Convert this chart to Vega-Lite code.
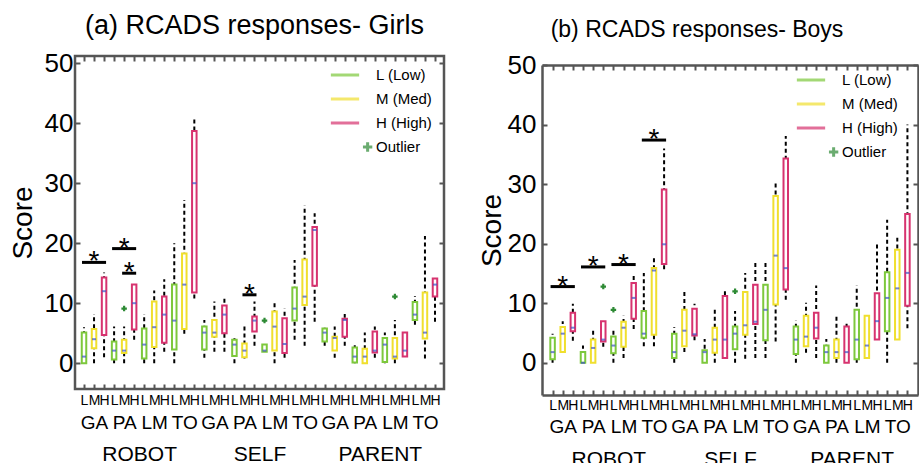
{
  "$schema": "https://vega.github.io/schema/vega-lite/v6.json",
  "padding": {"left": 7, "top": 10, "right": 0, "bottom": 0},
  "config": {
    "font": "Liberation Sans",
    "view": {"stroke": "#555555", "strokeWidth": 2.5},
    "axis": {"labelColor": "black", "tickColor": "#555555", "tickWidth": 2, "grid": false, "domain": false, "domainColor": "#555555", "domainWidth": 2.5, "labelFont": "Liberation Sans", "titleFont": "Liberation Sans"},
    "legend": {"labelFont": "Liberation Sans", "labelColor": "black"}
  },
  "datasets": {
    "boxA": [
      {"i":1,"lvl":"L","lo":0,"q1":0,"med":1.1,"q3":5.1,"hi":6},
      {"i":2,"lvl":"M","lo":0,"q1":2.5,"med":4.0,"q3":5.7,"hi":8.2},
      {"i":3,"lvl":"H","lo":1.0,"q1":4.7,"med":12.0,"q3":14.3,"hi":15.1},
      {"i":4,"lvl":"L","lo":0,"q1":0.6,"med":2.1,"q3":3.6,"hi":6.1},
      {"i":5,"lvl":"M","lo":0,"q1":1.7,"med":2.1,"q3":3.9,"hi":6.1},
      {"i":6,"lvl":"H","lo":3.9,"q1":5.6,"med":10.0,"q3":13.1,"hi":13.1},
      {"i":7,"lvl":"L","lo":0,"q1":0.8,"med":3.1,"q3":5.8,"hi":8.2},
      {"i":8,"lvl":"M","lo":0,"q1":2.7,"med":6.0,"q3":10.3,"hi":12.1},
      {"i":9,"lvl":"H","lo":1.9,"q1":3.4,"med":8.1,"q3":11.1,"hi":14.0},
      {"i":10,"lvl":"L","lo":0,"q1":2.3,"med":7.1,"q3":13.1,"hi":20.0},
      {"i":11,"lvl":"M","lo":4.9,"q1":5.7,"med":13.1,"q3":18.3,"hi":27.2},
      {"i":12,"lvl":"H","lo":10.8,"q1":11.8,"med":30.0,"q3":38.7,"hi":41.0},
      {"i":13,"lvl":"L","lo":0.9,"q1":2.3,"med":5.1,"q3":6.1,"hi":7.2},
      {"i":14,"lvl":"M","lo":1.9,"q1":4.4,"med":5.1,"q3":7.2,"hi":10.3},
      {"i":15,"lvl":"H","lo":1.9,"q1":5.0,"med":8.1,"q3":9.6,"hi":11.2},
      {"i":16,"lvl":"L","lo":0,"q1":1.2,"med":3.1,"q3":3.9,"hi":4.6},
      {"i":17,"lvl":"M","lo":0.8,"q1":1.0,"med":2.1,"q3":3.3,"hi":6.1},
      {"i":18,"lvl":"H","lo":2.9,"q1":5.3,"med":7.1,"q3":7.8,"hi":10.3},
      {"i":19,"lvl":"L","lo":1.9,"q1":1.9,"med":2.1,"q3":3.1,"hi":3.1},
      {"i":20,"lvl":"M","lo":0,"q1":2.1,"med":6.1,"q3":8.6,"hi":10.3},
      {"i":21,"lvl":"H","lo":0.9,"q1":1.7,"med":3.2,"q3":7.5,"hi":9.1},
      {"i":22,"lvl":"L","lo":3.9,"q1":7.1,"med":9.1,"q3":12.6,"hi":17.2},
      {"i":23,"lvl":"M","lo":2.9,"q1":9.7,"med":11.1,"q3":17.3,"hi":26.3},
      {"i":24,"lvl":"H","lo":6.9,"q1":12.9,"med":22.2,"q3":22.7,"hi":25.0},
      {"i":25,"lvl":"L","lo":2.9,"q1":3.6,"med":5.1,"q3":5.8,"hi":6.1},
      {"i":26,"lvl":"M","lo":0.9,"q1":2.1,"med":4.2,"q3":4.4,"hi":6.1},
      {"i":27,"lvl":"H","lo":2.9,"q1":4.4,"med":7.2,"q3":7.4,"hi":8.2},
      {"i":28,"lvl":"L","lo":0,"q1":0.1,"med":1.1,"q3":2.6,"hi":3.3},
      {"i":29,"lvl":"M","lo":0,"q1":0,"med":1.1,"q3":2.4,"hi":5.1},
      {"i":30,"lvl":"H","lo":0.9,"q1":1.8,"med":2.1,"q3":5.3,"hi":6.1},
      {"i":31,"lvl":"L","lo":0,"q1":0.2,"med":3.1,"q3":4.2,"hi":5.1},
      {"i":32,"lvl":"M","lo":0,"q1":0.8,"med":1.1,"q3":4.2,"hi":7.2},
      {"i":33,"lvl":"H","lo":1.1,"q1":1.1,"med":2.1,"q3":5.1,"hi":5.1},
      {"i":34,"lvl":"L","lo":6.4,"q1":7.2,"med":8.1,"q3":10.2,"hi":11.2},
      {"i":35,"lvl":"M","lo":0.8,"q1":4.1,"med":5.1,"q3":11.8,"hi":21.2},
      {"i":36,"lvl":"H","lo":6.9,"q1":11.1,"med":13.1,"q3":14.1,"hi":14.1}
    ],
    "boxB": [
      {"i":1,"lvl":"L","lo":0,"q1":0.6,"med":1.8,"q3":4.2,"hi":4.9},
      {"i":2,"lvl":"M","lo":1.8,"q1":1.8,"med":4.9,"q3":6.0,"hi":7.0},
      {"i":3,"lvl":"H","lo":3.7,"q1":5.3,"med":5.9,"q3":8.4,"hi":9.9},
      {"i":4,"lvl":"L","lo":0,"q1":0,"med":0,"q3":1.8,"hi":2.9},
      {"i":5,"lvl":"M","lo":0,"q1":0,"med":2.5,"q3":3.9,"hi":5.9},
      {"i":6,"lvl":"H","lo":2.7,"q1":3.6,"med":3.9,"q3":7.0,"hi":7.0},
      {"i":7,"lvl":"L","lo":0,"q1":1.6,"med":2.9,"q3":4.4,"hi":5.9},
      {"i":8,"lvl":"M","lo":0.8,"q1":2.7,"med":5.9,"q3":6.9,"hi":7.9},
      {"i":9,"lvl":"H","lo":5.7,"q1":7.4,"med":10.9,"q3":13.4,"hi":15.1},
      {"i":10,"lvl":"L","lo":2.8,"q1":4.2,"med":4.9,"q3":8.7,"hi":15.1},
      {"i":11,"lvl":"M","lo":2.8,"q1":4.7,"med":15.5,"q3":15.9,"hi":18.0},
      {"i":12,"lvl":"H","lo":15.7,"q1":16.6,"med":19.9,"q3":29.1,"hi":36.0},
      {"i":13,"lvl":"L","lo":0,"q1":0.8,"med":1.8,"q3":4.9,"hi":6.0},
      {"i":14,"lvl":"M","lo":1.8,"q1":2.8,"med":5.4,"q3":8.9,"hi":12.0},
      {"i":15,"lvl":"H","lo":3.8,"q1":4.6,"med":4.8,"q3":9.1,"hi":9.9},
      {"i":16,"lvl":"L","lo":0,"q1":0,"med":1.8,"q3":2.1,"hi":4.0},
      {"i":17,"lvl":"M","lo":0,"q1":1.7,"med":3.9,"q3":5.9,"hi":8.9},
      {"i":18,"lvl":"H","lo":0.8,"q1":0.8,"med":3.9,"q3":11.2,"hi":12.0},
      {"i":19,"lvl":"L","lo":0,"q1":2.3,"med":4.9,"q3":6.1,"hi":8.7},
      {"i":20,"lvl":"M","lo":0.7,"q1":4.7,"med":6.3,"q3":11.9,"hi":15.1},
      {"i":21,"lvl":"H","lo":0.8,"q1":6.5,"med":6.9,"q3":13.1,"hi":17.0},
      {"i":22,"lvl":"L","lo":0.8,"q1":3.8,"med":8.9,"q3":13.1,"hi":17.0},
      {"i":23,"lvl":"M","lo":3.6,"q1":9.8,"med":18.0,"q3":28.0,"hi":30.1},
      {"i":24,"lvl":"H","lo":10.6,"q1":12.3,"med":15.9,"q3":34.3,"hi":38.1},
      {"i":25,"lvl":"L","lo":0,"q1":1.5,"med":3.9,"q3":6.1,"hi":7.1},
      {"i":26,"lvl":"M","lo":1.7,"q1":2.8,"med":4.4,"q3":7.9,"hi":10.1},
      {"i":27,"lvl":"H","lo":0.8,"q1":4.1,"med":5.9,"q3":8.4,"hi":13.0},
      {"i":28,"lvl":"L","lo":0,"q1":0,"med":1.8,"q3":2.9,"hi":4.0},
      {"i":29,"lvl":"M","lo":0,"q1":0.8,"med":1.8,"q3":3.9,"hi":7.9},
      {"i":30,"lvl":"H","lo":0,"q1":0,"med":1.8,"q3":6.1,"hi":7.0},
      {"i":31,"lvl":"L","lo":0,"q1":0.6,"med":3.9,"q3":8.9,"hi":13.0},
      {"i":32,"lvl":"M","lo":0.8,"q1":0.8,"med":2.9,"q3":7.9,"hi":7.9},
      {"i":33,"lvl":"H","lo":3.9,"q1":3.9,"med":7.0,"q3":11.7,"hi":20.0},
      {"i":34,"lvl":"L","lo":0,"q1":5.3,"med":10.9,"q3":15.2,"hi":24.0},
      {"i":35,"lvl":"M","lo":3.9,"q1":3.9,"med":12.5,"q3":19.0,"hi":21.0},
      {"i":36,"lvl":"H","lo":5.8,"q1":9.6,"med":15.1,"q3":25.0,"hi":40.0}
    ],
    "outA": [{"i":5,"v":9.1},{"i":19,"v":7.1},{"i":32,"v":11.1}],
    "outB": [{"i":6,"v":12.8},{"i":7,"v":8.9},{"i":19,"v":12.0}],
    "sigA": [
      {"x1":1,"x2":3,"xc":2,"y":16.8},
      {"x1":4,"x2":6,"xc":5,"y":19.1},
      {"x1":5,"x2":6,"xc":5.5,"y":15.0},
      {"x1":17,"x2":18,"xc":17.5,"y":11.4}
    ],
    "sigB": [
      {"x1":1,"x2":3,"xc":2,"y":12.8},
      {"x1":4,"x2":6,"xc":5,"y":16.1},
      {"x1":7,"x2":9,"xc":8,"y":16.5},
      {"x1":10,"x2":12,"xc":11,"y":37.4}
    ],
    "lg": [{"lg":"L (Low)"},{"lg":"M (Med)"},{"lg":"H (High)"},{"lg":"Outlier"}]
  },
  "spacing": 31,
  "resolve": {
    "scale": {"x": "independent", "y": "independent", "color": "independent", "shape": "independent", "stroke": "independent"},
    "legend": {"color": "independent", "shape": "independent"}
  },
  "hconcat": [
    {
      "width": 369,
      "height": 333,
      "title": {"text": "(a) RCADS responses- Girls", "fontSize": 27, "fontWeight": "normal", "color": "black", "dx": -5, "offset": 10},
      "resolve": {"axis": {"x": "independent", "y": "independent"}},
      "layer": [
        {
          "data": {"name": "boxA"},
          "mark": {"type": "rule", "strokeDash": [4, 3], "strokeWidth": 2, "color": "black"},
          "encoding": {
            "x": {"field": "i", "type": "quantitative", "scale": {"domain": [0.6, 36.4], "nice": false, "zero": false},
              "axis": {"orient": "bottom", "values": [1,2,3,4,5,6,7,8,9,10,11,12,13,14,15,16,17,18,19,20,21,22,23,24,25,26,27,28,29,30,31,32,33,34,35,36],
                "labelExpr": "['L','M','H'][(datum.value-1)%3]", "tickSize": -5, "labelPadding": 9, "labelFontSize": 14, "labelAngle": 0,
                "labelFlush": false, "labelOverlap": false, "title": null}},
            "y": {"field": "lo", "type": "quantitative", "scale": {"domain": [-4.3, 51.2], "nice": false, "zero": false},
              "axis": {"orient": "left", "values": [0,10,20,30,40,50], "tickSize": -5, "labelPadding": 7, "labelFontSize": 26,
                "title": "Score", "titleFontSize": 28, "titleFontWeight": "normal", "titleColor": "black", "titlePadding": 7, "labelFlush": false}},
            "y2": {"field": "hi"}
          }
        },
        {
          "data": {"name": "boxA"},
          "mark": {"type": "bar", "size": 4.5, "fill": "white", "strokeWidth": 2},
          "encoding": {
            "x": {"field": "i", "type": "quantitative", "axis": null},
            "y": {"field": "q1", "type": "quantitative", "axis": null},
            "y2": {"field": "q3"},
            "stroke": {"field": "lvl", "type": "nominal", "scale": {"domain": ["L","M","H"], "range": ["#7dc83c","#f0df2e","#d7336f"]}, "legend": null}
          }
        },
        {
          "data": {"name": "boxA"},
          "mark": {"type": "tick", "orient": "horizontal", "size": 4, "thickness": 2, "color": "#3b52c4"},
          "encoding": {
            "x": {"field": "i", "type": "quantitative", "axis": null},
            "y": {"field": "med", "type": "quantitative", "axis": null}
          }
        },
        {
          "data": {"name": "outA"},
          "mark": {"type": "point", "shape": "cross", "size": 30, "filled": true, "color": "#2d8a34", "opacity": 1},
          "encoding": {
            "x": {"field": "i", "type": "quantitative", "axis": null},
            "y": {"field": "v", "type": "quantitative", "axis": null}
          }
        },
        {
          "data": {"name": "sigA"},
          "mark": {"type": "rule", "strokeWidth": 3, "color": "black", "xOffset": -2, "x2Offset": 2},
          "encoding": {
            "x": {"field": "x1", "type": "quantitative", "axis": null},
            "x2": {"field": "x2"},
            "y": {"field": "y", "type": "quantitative", "axis": null}
          }
        },
        {
          "data": {"name": "sigA"},
          "mark": {"type": "text", "text": "*", "fontSize": 28, "baseline": "alphabetic", "dy": 8, "color": "black"},
          "encoding": {
            "x": {"field": "xc", "type": "quantitative", "axis": null},
            "y": {"field": "y", "type": "quantitative", "axis": null}
          }
        },
        {
          "data": {"name": "boxA"},
          "mark": {"type": "point", "opacity": 0},
          "encoding": {
            "x": {"field": "i", "type": "quantitative",
              "axis": {"orient": "bottom", "values": [2,5,8,11,14,17,20,23,26,29,32,35],
                "labelExpr": "['GA','PA','LM','TO'][round((datum.value-2)/3)%4]", "ticks": false, "labelPadding": 24, "labelFontSize": 19,
                "labelAngle": 0, "labelFlush": false, "labelOverlap": false, "title": null}},
            "y": {"field": "med", "type": "quantitative", "axis": null}
          }
        },
        {
          "data": {"name": "boxA"},
          "mark": {"type": "point", "opacity": 0},
          "encoding": {
            "x": {"field": "i", "type": "quantitative",
              "axis": {"orient": "bottom", "values": [6.5, 18.5, 30.5],
                "labelExpr": "datum.value < 10 ? 'ROBOT' : datum.value < 20 ? 'SELF' : 'PARENT'", "ticks": false, "labelPadding": 54, "labelFontSize": 21,
                "labelAngle": 0, "labelFlush": false, "labelOverlap": false, "title": null}},
            "y": {"field": "med", "type": "quantitative", "axis": null}
          }
        },
        {
          "data": {"name": "boxA"},
          "mark": {"type": "point", "opacity": 0},
          "encoding": {
            "x": {"field": "i", "type": "quantitative",
              "axis": {"orient": "top", "values": [1,2,3,4,5,6,7,8,9,10,11,12,13,14,15,16,17,18,19,20,21,22,23,24,25,26,27,28,29,30,31,32,33,34,35,36],
                "labels": false, "tickSize": -5, "title": null}},
            "y": {"field": "med", "type": "quantitative",
              "axis": {"orient": "right", "values": [0,10,20,30,40,50], "labels": false, "tickSize": -5, "title": null}}
          }
        },
        {
          "data": {"name": "lg"},
          "transform": [{"filter": "datum.lg == 'none'"}],
          "mark": {"type": "point", "filled": false, "strokeWidth": 3},
          "encoding": {
            "color": {"field": "lg", "type": "nominal",
              "scale": {"domain": ["L (Low)","M (Med)","H (High)","Outlier"], "range": ["#7dc83c","#f0df2e","#d7336f","#2d8a34"]},
              "legend": {"orient": "none", "legendX": 254, "legendY": 3, "title": null, "labelFontSize": 15, "symbolSize": 800,
                "symbolStrokeWidth": 3, "rowPadding": -1, "labelOffset": 15, "labelLimit": 200}},
            "shape": {"field": "lg", "type": "nominal",
              "scale": {"domain": ["L (Low)","M (Med)","H (High)","Outlier"], "range": ["stroke","stroke","stroke","M1.27,0H1.93M1.6,-0.33V0.33"]}}
          }
        }
      ]
    },
    {
      "width": 376,
      "height": 339,
      "view": {"stroke": null},
      "title": {"text": "(b) RCADS responses- Boys", "fontSize": 23, "fontWeight": "normal", "color": "black", "dx": -33, "offset": 10},
      "resolve": {"axis": {"x": "independent", "y": "independent"}},
      "layer": [
        {
          "data": {"name": "boxB"},
          "mark": {"type": "rule", "strokeDash": [4, 3], "strokeWidth": 2, "color": "black"},
          "encoding": {
            "x": {"field": "i", "type": "quantitative", "scale": {"domain": [0.45, 36.55], "nice": false, "zero": false},
              "axis": {"orient": "bottom", "values": [1,2,3,4,5,6,7,8,9,10,11,12,13,14,15,16,17,18,19,20,21,22,23,24,25,26,27,28,29,30,31,32,33,34,35,36],
                "labelExpr": "['L','M','H'][(datum.value-1)%3]", "tickSize": -5, "labelPadding": 8, "labelFontSize": 14, "labelAngle": 0,
                "domain": true, "labelFlush": false, "labelOverlap": false, "title": null}},
            "y": {"field": "lo", "type": "quantitative", "scale": {"domain": [-5.4, 50], "range": [339, 9], "nice": false, "zero": false},
              "axis": {"orient": "left", "values": [0,10,20,30,40,50], "tickSize": -5, "labelPadding": 11, "labelFontSize": 26, "domain": true,
                "title": "Score", "titleFontSize": 28, "titleFontWeight": "normal", "titleColor": "black", "titlePadding": 1, "labelFlush": false}},
            "y2": {"field": "hi"}
          }
        },
        {
          "data": {"name": "boxB"},
          "mark": {"type": "bar", "size": 4.5, "fill": "white", "strokeWidth": 2},
          "encoding": {
            "x": {"field": "i", "type": "quantitative", "axis": null},
            "y": {"field": "q1", "type": "quantitative", "axis": null},
            "y2": {"field": "q3"},
            "stroke": {"field": "lvl", "type": "nominal", "scale": {"domain": ["L","M","H"], "range": ["#7dc83c","#f0df2e","#d7336f"]}, "legend": null}
          }
        },
        {
          "data": {"name": "boxB"},
          "mark": {"type": "tick", "orient": "horizontal", "size": 4, "thickness": 2, "color": "#3b52c4"},
          "encoding": {
            "x": {"field": "i", "type": "quantitative", "axis": null},
            "y": {"field": "med", "type": "quantitative", "axis": null}
          }
        },
        {
          "data": {"name": "outB"},
          "mark": {"type": "point", "shape": "cross", "size": 30, "filled": true, "color": "#2d8a34", "opacity": 1},
          "encoding": {
            "x": {"field": "i", "type": "quantitative", "axis": null},
            "y": {"field": "v", "type": "quantitative", "axis": null}
          }
        },
        {
          "data": {"name": "sigB"},
          "mark": {"type": "rule", "strokeWidth": 3, "color": "black", "xOffset": -2, "x2Offset": 2},
          "encoding": {
            "x": {"field": "x1", "type": "quantitative", "axis": null},
            "x2": {"field": "x2"},
            "y": {"field": "y", "type": "quantitative", "axis": null}
          }
        },
        {
          "data": {"name": "sigB"},
          "mark": {"type": "text", "text": "*", "fontSize": 28, "baseline": "alphabetic", "dy": 8, "color": "black"},
          "encoding": {
            "x": {"field": "xc", "type": "quantitative", "axis": null},
            "y": {"field": "y", "type": "quantitative", "axis": null}
          }
        },
        {
          "data": {"name": "boxB"},
          "mark": {"type": "point", "opacity": 0},
          "encoding": {
            "x": {"field": "i", "type": "quantitative",
              "axis": {"orient": "bottom", "values": [2,5,8,11,14,17,20,23,26,29,32,35],
                "labelExpr": "['GA','PA','LM','TO'][round((datum.value-2)/3)%4]", "ticks": false, "labelPadding": 22, "labelFontSize": 19,
                "labelAngle": 0, "labelFlush": false, "labelOverlap": false, "title": null}},
            "y": {"field": "med", "type": "quantitative", "axis": null}
          }
        },
        {
          "data": {"name": "boxB"},
          "mark": {"type": "point", "opacity": 0},
          "encoding": {
            "x": {"field": "i", "type": "quantitative",
              "axis": {"orient": "bottom", "values": [6.5, 18.5, 30.5],
                "labelExpr": "datum.value < 10 ? 'ROBOT' : datum.value < 20 ? 'SELF' : 'PARENT'", "ticks": false, "labelPadding": 53, "labelFontSize": 21,
                "labelAngle": 0, "labelFlush": false, "labelOverlap": false, "title": null}},
            "y": {"field": "med", "type": "quantitative", "axis": null}
          }
        },
        {
          "data": {"name": "boxB"},
          "mark": {"type": "point", "opacity": 0},
          "encoding": {
            "x": {"field": "i", "type": "quantitative",
              "axis": {"orient": "top", "offset": -9, "domain": true, "values": [1,2,3,4,5,6,7,8,9,10,11,12,13,14,15,16,17,18,19,20,21,22,23,24,25,26,27,28,29,30,31,32,33,34,35,36],
                "labels": false, "tickSize": -5, "title": null}},
            "y": {"field": "med", "type": "quantitative",
              "axis": {"orient": "right", "domain": true, "values": [0,10,20,30,40,50], "labels": false, "tickSize": -5, "title": null}}
          }
        },
        {
          "data": {"name": "lg"},
          "transform": [{"filter": "datum.lg == 'none'"}],
          "mark": {"type": "point", "filled": false, "strokeWidth": 3},
          "encoding": {
            "color": {"field": "lg", "type": "nominal",
              "scale": {"domain": ["L (Low)","M (Med)","H (High)","Outlier"], "range": ["#7dc83c","#f0df2e","#d7336f","#2d8a34"]},
              "legend": {"orient": "none", "legendX": 253, "legendY": 8, "title": null, "labelFontSize": 15, "symbolSize": 800,
                "symbolStrokeWidth": 3, "rowPadding": -1, "labelOffset": 15, "labelLimit": 200}},
            "shape": {"field": "lg", "type": "nominal",
              "scale": {"domain": ["L (Low)","M (Med)","H (High)","Outlier"], "range": ["stroke","stroke","stroke","M1.27,0H1.93M1.6,-0.33V0.33"]}}
          }
        }
      ]
    }
  ]
}
